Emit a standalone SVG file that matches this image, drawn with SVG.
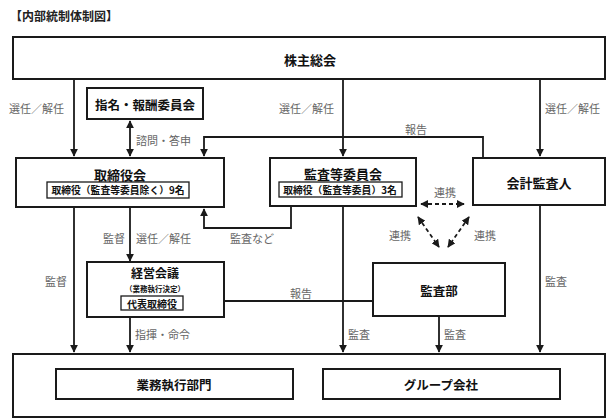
<svg xmlns="http://www.w3.org/2000/svg" width="613" height="418" viewBox="0 0 613 418">
<style>
text{font-family:"Noto Sans CJK JP","Noto Sans CJK SC",sans-serif;}
.box{fill:#fff;stroke:#1a1a1a;stroke-width:2;}
.ibox{fill:#fff;stroke:#1a1a1a;stroke-width:1.3;}
.t{font-weight:bold;fill:#111;text-anchor:middle;dominant-baseline:central;}
.lbl{font-size:11px;fill:#666;dominant-baseline:central;}
.ln{fill:none;stroke:#1a1a1a;stroke-width:1.8;}
.dash{fill:none;stroke:#1a1a1a;stroke-width:1.8;stroke-dasharray:4 3;}
</style>
<defs>
<marker id="ah" viewBox="0 0 10 10" refX="9" refY="5" markerWidth="4.5" markerHeight="4.5" orient="auto-start-reverse"><path d="M0,0 L10,5 L0,10 z" fill="#1a1a1a"/></marker>
</defs>
<text x="10" y="15" font-size="12" font-weight="bold" fill="#222" dominant-baseline="central">【内部統制体制図】</text>

<g id="connectors">
<path class="ln" d="M74,79 V156" marker-end="url(#ah)"/>
<path class="ln" d="M343,79 V156" marker-end="url(#ah)"/>
<path class="ln" d="M540,79 V156" marker-end="url(#ah)"/>
<path class="ln" d="M130,121 V156" marker-start="url(#ah)" marker-end="url(#ah)"/>
<path class="ln" d="M483,158 V137 H204 V156" marker-end="url(#ah)"/>
<path class="ln" d="M74,207 V352" marker-end="url(#ah)"/>
<path class="ln" d="M130,207 V261" marker-end="url(#ah)"/>
<path class="ln" d="M291,206 V228 H204 V209" marker-end="url(#ah)"/>
<path class="ln" d="M373,301 H185" marker-end="url(#ah)"/>
<path class="ln" d="M343,206 V352" marker-end="url(#ah)"/>
<path class="ln" d="M439,316 V352" marker-end="url(#ah)"/>
<path class="ln" d="M540,205 V352" marker-end="url(#ah)"/>
<path class="ln" d="M130,317 V352" marker-end="url(#ah)"/>
<path class="dash" d="M421,204 H464" marker-start="url(#ah)" marker-end="url(#ah)"/>
<path class="dash" d="M418,217 L439,247" marker-start="url(#ah)" marker-end="url(#ah)"/>
<path class="dash" d="M469,217 L448,247" marker-start="url(#ah)" marker-end="url(#ah)"/>
<text class="lbl" x="9" y="108">選任／解任</text>
<text class="lbl" x="279" y="108">選任／解任</text>
<text class="lbl" x="545" y="108">選任／解任</text>
<text class="lbl" x="136" y="140">諮問・答申</text>
<text class="lbl" x="405" y="129">報告</text>
<text class="lbl" x="103" y="238">監督</text>
<text class="lbl" x="136" y="238">選任／解任</text>
<text class="lbl" x="230" y="238">監査など</text>
<text class="lbl" x="434" y="192">連携</text>
<text class="lbl" x="389" y="235">連携</text>
<text class="lbl" x="474" y="235">連携</text>
<text class="lbl" x="45" y="281">監督</text>
<text class="lbl" x="290" y="293">報告</text>
<text class="lbl" x="545" y="281">監査</text>
<text class="lbl" x="135" y="334">指揮・命令</text>
<text class="lbl" x="348" y="334">監査</text>
<text class="lbl" x="444" y="334">監査</text>
</g>

<g id="kabunushi">
<rect class="box" x="13" y="37" width="592" height="42"/>
<text class="t" x="310" y="59" font-size="13">株主総会</text>
</g>
<g id="shimei">
<rect class="box" x="87" y="88" width="116" height="31"/>
<text class="t" x="145" y="104" font-size="12.5">指名・報酬委員会</text>
</g>
<g id="torishimariyakukai">
<rect class="box" x="16" y="158" width="208" height="49"/>
<text class="t" x="120" y="174" font-size="13">取締役会</text>
<rect class="ibox" x="47" y="182" width="142" height="16"/>
<text class="t" x="118" y="190" font-size="9.8">取締役（監査等委員除く）9名</text>
</g>
<g id="kansatouiinkai">
<rect class="box" x="270" y="158" width="146" height="48"/>
<text class="t" x="343" y="173" font-size="13">監査等委員会</text>
<rect class="ibox" x="279" y="182" width="123" height="15"/>
<text class="t" x="340" y="190" font-size="9.8">取締役（監査等委員）3名</text>
</g>
<g id="kaikeikansanin">
<rect class="box" x="473" y="158" width="132" height="47"/>
<text class="t" x="539" y="182" font-size="13">会計監査人</text>
</g>
<g id="keieikaigi">
<rect class="box" x="87" y="262" width="137" height="55"/>
<text class="t" x="155" y="272" font-size="12">経営会議</text>
<text class="t" x="155" y="288" font-size="7.5">（業務執行決定）</text>
<rect class="ibox" x="121" y="296" width="62" height="14"/>
<text class="t" x="152" y="303" font-size="10">代表取締役</text>
</g>
<g id="kansabu">
<rect class="box" x="373" y="263" width="132" height="53"/>
<text class="t" x="439" y="290" font-size="12.5">監査部</text>
</g>
<g id="bottom">
<rect class="box" x="13" y="354" width="592" height="63"/>
</g>
<g id="gyoumu">
<rect class="box" x="56" y="369" width="237" height="30"/>
<text class="t" x="174" y="384" font-size="12.5">業務執行部門</text>
</g>
<g id="group">
<rect class="box" x="323" y="369" width="237" height="30"/>
<text class="t" x="441" y="384" font-size="12.5">グループ会社</text>
</g>
</svg>
